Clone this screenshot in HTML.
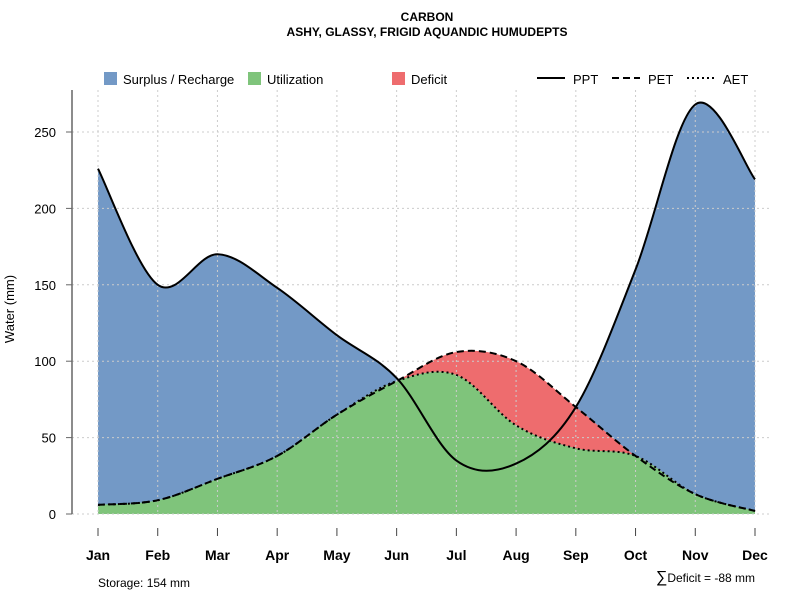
<!DOCTYPE html>
<html><head><meta charset="utf-8">
<style>
body{margin:0;background:#fff;}
svg{display:block;font-family:"Liberation Sans",sans-serif;}
</style></head>
<body>
<svg id="chart" width="800" height="600" viewBox="0 0 800 600">
<text x="427" y="21" text-anchor="middle" font-size="12" font-weight="bold">CARBON</text>
<text x="427" y="36" text-anchor="middle" font-size="12" font-weight="bold">ASHY, GLASSY, FRIGID AQUANDIC HUMUDEPTS</text>
<g>
<rect x="104" y="72" width="13" height="13" fill="#7399c6"/>
<text x="123" y="84" font-size="13">Surplus / Recharge</text>
<rect x="248" y="72" width="13" height="13" fill="#7fc47b"/>
<text x="267" y="84" font-size="13">Utilization</text>
<rect x="392" y="72" width="13" height="13" fill="#ee6c6e"/>
<text x="411" y="84" font-size="13">Deficit</text>
<line x1="537" y1="78" x2="565" y2="78" stroke="#000" stroke-width="2"/>
<text x="573" y="84" font-size="13">PPT</text>
<line x1="612" y1="78" x2="640" y2="78" stroke="#000" stroke-width="2" stroke-dasharray="7,4"/>
<text x="648" y="84" font-size="13">PET</text>
<line x1="687" y1="78" x2="715" y2="78" stroke="#000" stroke-width="2" stroke-dasharray="2,3"/>
<text x="723" y="84" font-size="13">AET</text>
</g>
<g id="plot"></g>
<text x="98" y="587" font-size="12">Storage: 154 mm</text>
<text x="755" y="582" text-anchor="end" font-size="12"><tspan font-size="16">∑</tspan>Deficit = -88 mm</text>
<text transform="translate(14,309) rotate(-90)" text-anchor="middle" font-size="13">Water (mm)</text>
</svg>
<script>
const months=["Jan","Feb","Mar","Apr","May","Jun","Jul","Aug","Sep","Oct","Nov","Dec"];
const ppt=[226,150,170,148,117,89,35,33,70,160,268,219];
const pet=[6,9,23,38,65,87,106,100,70,38,13,2];
const aet=[6,9,23,38,65,87,91,58,43,38,13,2];
const yTicks=[0,50,100,150,200,250];
const NS="http://www.w3.org/2000/svg";
const X=i=>98+i*(755-98)/11;
const Y=v=>514-v*382/250;
const g=document.getElementById('plot');
function mk(t,a){const e=document.createElementNS(NS,t);for(const k in a)e.setAttribute(k,a[k]);g.appendChild(e);return e;}
function ptPath(p,cmd){
 let d=cmd+p[0][0]+","+p[0][1];
 for(let i=0;i<p.length-1;i++){
  const p0=p[Math.max(i-1,0)],p1=p[i],p2=p[i+1],p3=p[Math.min(i+2,p.length-1)];
  d+=" C"+(p1[0]+(p2[0]-p0[0])/6)+","+(p1[1]+(p2[1]-p0[1])/6)+" "+(p2[0]-(p3[0]-p1[0])/6)+","+(p2[1]-(p3[1]-p1[1])/6)+" "+p2[0]+","+p2[1];
 }
 return d;
}
function pts(vals){return vals.map((v,i)=>[X(i),Y(v)]);}
function path(vals){return ptPath(pts(vals),"M");}
function revPath(vals){return ptPath(pts(vals).reverse(),"L");}
const base=" L"+X(11)+","+Y(0)+" L"+X(0)+","+Y(0)+" Z";
let e;
e=mk('path',{d:path(ppt)+base,fill:"#7399c6"});


e=mk('path',{d:path(pet)+" "+revPath(aet)+" Z",fill:"#ee6c6e"});


e=mk('path',{d:path(aet)+base,fill:"#7fc47b"});


yTicks.forEach(t=>{
 e=mk('line',{x1:72,x2:770,y1:Y(t),y2:Y(t),stroke:"#ccc","stroke-dasharray":"2,3"});
 
 
 e=mk('line',{x1:66,x2:72,y1:Y(t),y2:Y(t),stroke:"#666"});
 
 
 e=mk('text',{x:56,y:Y(t)+5,"text-anchor":"end","font-size":"13"});e.textContent=t;
 
 
});
months.forEach((m,i)=>{
 e=mk('line',{x1:X(i),x2:X(i),y1:90,y2:514,stroke:"#ccc","stroke-dasharray":"2,3"});
 
 
 e=mk('line',{x1:X(i),x2:X(i),y1:528,y2:536,stroke:"#444"});
 
 
 e=mk('text',{x:X(i),y:560,"text-anchor":"middle","font-size":"14","font-weight":"bold"});e.textContent=m;
 
 
});
e=mk('line',{x1:72,x2:72,y1:90,y2:514,stroke:"#666","stroke-width":1.5});


e=mk('path',{d:path(aet),fill:"none",stroke:"#000","stroke-width":2,"stroke-dasharray":"2,3"});


e=mk('path',{d:path(pet),fill:"none",stroke:"#000","stroke-width":2,"stroke-dasharray":"7,4"});


e=mk('path',{d:path(ppt),fill:"none",stroke:"#000","stroke-width":2});


</script>
</body></html>
